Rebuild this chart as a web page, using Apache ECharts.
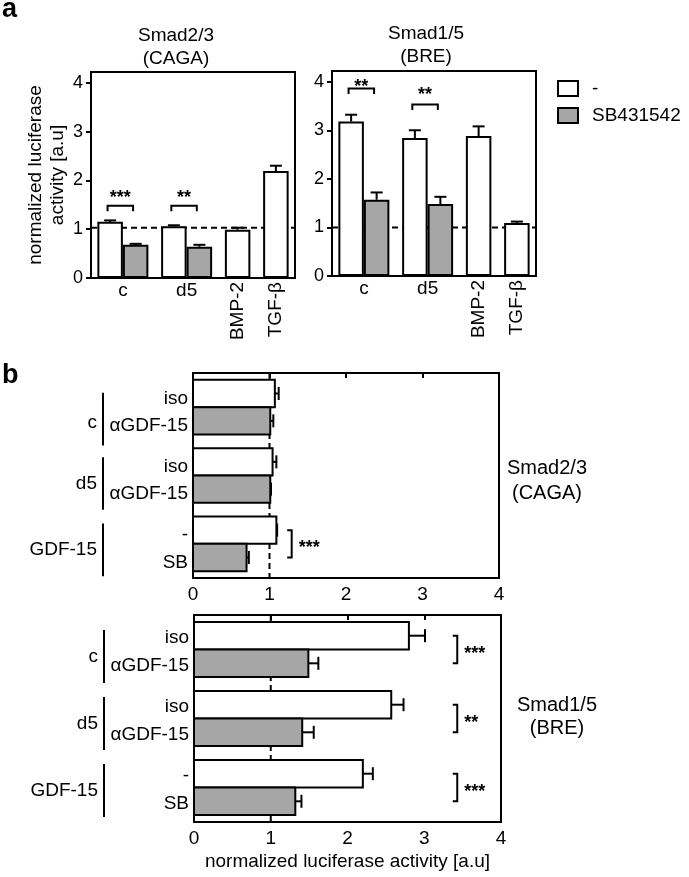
<!DOCTYPE html>
<html><head><meta charset="utf-8">
<script src="https://cdn.jsdelivr.net/npm/echarts@6/dist/echarts.min.js"></script>
<style>html,body{margin:0;padding:0;background:#fff}#chart{width:689px;height:877px}</style>
</head><body><div id="chart"></div>
<script>
// ---------------- data ----------------
const groupsA = ['c', 'd5', 'BMP-2', 'TGF-β'];
const barsPerGroupA = [2, 2, 1, 1];
const cagaCtrl = [1.15, 1.06, 0.99, 2.19];
const cagaCtrlErr = [1.18, 1.08, 1.03, 2.30];
const cagaSB = [0.68, 0.64];
const cagaSBErr = [0.70, 0.68];
const breCtrl = [3.18, 2.84, 2.88, 1.09];
const breCtrlErr = [3.32, 3.00, 3.08, 1.12];
const breSB = [1.57, 1.48];
const breSBErr = [1.72, 1.63];
const sigCaga = ['***', '**'];
const sigCagaBracket = [1.48, 1.48];
const sigCagaText = [1.74, 1.74];
const sigBre = ['**', '**'];
const sigBreBracket = [3.86, 3.53];
const sigBreText = [3.98, 3.82];
const refCaga = 1.03;
const refBre = 1.0;
const yTicksA = [0, 1, 2, 3, 4];

const groupsB = ['c', 'd5', 'GDF-15'];
const firstLabelsB = ['iso', 'iso', '-'];
const secondLabelsB = ['αGDF-15', 'αGDF-15', 'SB'];
const bCagaFirst = [1.07, 1.04, 1.09];
const bCagaFirstErr = [1.12, 1.09, 1.10];
const bCagaSecond = [1.01, 1.01, 0.70];
const bCagaSecondErr = [1.05, 1.02, 0.73];
const bBreFirst = [2.80, 2.57, 2.20];
const bBreFirstErr = [3.01, 2.73, 2.33];
const bBreSecond = [1.49, 1.41, 1.32];
const bBreSecondErr = [1.62, 1.56, 1.40];
const sigBCaga = ['', '', '***'];
const sigBBre = ['***', '**', '***'];
const sigBCagaX = 1.29;
const sigBBreX = 3.43;
const refB = 1.0;

// ---------------- layout helpers ----------------
const FONT = 'Liberation Sans, Arial, Helvetica, sans-serif';
const GRAY = '#a6a6a6';
function slots(sizes) {
  let cur = 0.5; const pos = [];
  sizes.forEach(n => { const a = []; for (let i = 0; i < n; i++) { a.push(cur + 1); cur += 2; } pos.push(a); cur += 1; });
  return { pos, max: cur - 0.5 };
}
const SA = slots(barsPerGroupA);
const SB = slots([2, 2, 2]);
const gA = [{ left: 91, top: 72, width: 204, height: 206 }, { left: 332, top: 71, width: 204, height: 205 }];
const gB = [{ left: 193, top: 373, width: 306, height: 205 }, { left: 194, top: 615, width: 307, height: 207 }];
const yMaxA = 4.22;
const bwA = gA[0].width / SA.max * 2;
// vertical offsets (px) of the group brackets / bar labels in panel b
const grpShiftB = [[12, 8, 6], [7, 5, 3]];
const grpTextShiftB = [[4, 0, 0], [0, 0, 0]];
const barLabShiftB = [5, 2];

const pairLabA = [], singleLabA = [];
SA.pos.forEach((a, g) => { if (a.length === 2) pairLabA.push([(a[0] + a[1]) / 2, groupsA[g]]); else singleLabA.push([a[0], groupsA[g]]); });
const lookup = (list) => (v) => { const m = list.find(e => Math.abs(e[0] - v) < 1e-6); return m ? m[1] : ''; };

const line = (x1, y1, x2, y2) => ({ type: 'line', shape: { x1, y1, x2, y2 }, style: { stroke: '#000', lineWidth: 2 } });

// ---------------- axes ----------------
const xAxis = [], yAxis = [], series = [];
gA.forEach((g, k) => {
  xAxis.push({ type: 'value', gridIndex: k, min: 0, max: SA.max, interval: 0.5, position: 'bottom',
    axisLine: { show: false }, axisTick: { show: false }, splitLine: { show: false },
    axisLabel: { formatter: lookup(pairLabA), color: '#000', fontSize: 19, margin: 3, fontFamily: FONT } });
  xAxis.push({ type: 'value', gridIndex: k, min: 0, max: SA.max, interval: 0.5, position: 'bottom',
    axisLine: { show: false }, axisTick: { show: false }, splitLine: { show: false },
    axisLabel: { formatter: lookup(singleLabA), rotate: 90, color: '#000', fontSize: 19, margin: 4, fontFamily: FONT } });
  yAxis.push({ type: 'value', gridIndex: k, min: 0, max: yMaxA, interval: 1,
    name: k === 0 ? 'normalized luciferase\nactivity [a.u]' : '', nameLocation: 'middle', nameGap: 13,
    nameTextStyle: { fontSize: 19, lineHeight: 22, color: '#000', fontFamily: FONT },
    axisLine: { show: true, lineStyle: { color: '#000', width: 2 } },
    axisTick: { show: true, length: 5, customValues: yTicksA, lineStyle: { color: '#000', width: 2 } },
    splitLine: { show: false },
    axisLabel: { customValues: yTicksA, formatter: v => (Number.isInteger(v) ? String(v) : ''), color: '#000', fontSize: 18, margin: 8, fontFamily: FONT } });
});
gB.forEach((g, k) => {
  xAxis.push({ type: 'value', gridIndex: 2 + k, min: 0, max: 4, interval: 1,
    axisLine: { show: true, lineStyle: { color: '#000', width: 2 } },
    axisTick: { show: true, length: 5, lineStyle: { color: '#000', width: 2 } }, splitLine: { show: false },
    axisLabel: { color: '#000', fontSize: 19, margin: 7, fontFamily: FONT },
    name: k === 1 ? 'normalized luciferase activity [a.u]' : '', nameLocation: 'middle', nameGap: 30,
    nameTextStyle: { fontSize: 19, color: '#000', fontFamily: FONT } });
  yAxis.push({ type: 'value', gridIndex: 2 + k, min: 0, max: SB.max, inverse: true,
    axisLine: { show: false }, axisTick: { show: false }, splitLine: { show: false }, axisLabel: { show: false } });
});

// ---------------- panel a series ----------------
function panelA(k, ctrl, ctrlErr, sb, sbErr, sig, sigB, sigT, ref) {
  const xi = 2 * k, yi = k;
  series.push({ type: 'line', xAxisIndex: xi, yAxisIndex: yi, data: [[0, ref], [SA.max, ref]], symbol: 'none', silent: true, z: 1,
    lineStyle: { color: '#000', width: 2, type: [6, 4] } });
  series.push({ type: 'bar', name: '-', xAxisIndex: xi, yAxisIndex: yi, barWidth: bwA, barGap: '-100%', z: 2,
    data: ctrl.map((v, g) => [SA.pos[g][0], v]), itemStyle: { color: '#fff', borderColor: '#000', borderWidth: 2 } });
  series.push({ type: 'bar', name: 'SB431542', xAxisIndex: xi, yAxisIndex: yi, barWidth: bwA, barGap: '-100%', z: 2,
    data: sb.map((v, g) => [SA.pos[g][1], v]), itemStyle: { color: GRAY, borderColor: '#000', borderWidth: 2 } });
  const errData = ctrl.map((v, g) => [SA.pos[g][0], v, ctrlErr[g]]).concat(sb.map((v, g) => [SA.pos[g][1], v, sbErr[g]]));
  series.push({ type: 'custom', xAxisIndex: xi, yAxisIndex: yi, z: 3, silent: true, data: errData,
    renderItem: (p, api) => {
      const b = api.coord([api.value(0), api.value(1)]), t = api.coord([api.value(0), api.value(2)]);
      return { type: 'group', children: [line(b[0], b[1], t[0], t[1]), line(t[0] - 6, t[1], t[0] + 6, t[1])] };
    } });
  series.push({ type: 'custom', xAxisIndex: xi, yAxisIndex: yi, z: 3, silent: true, clip: false,
    data: sig.map((s, g) => [g, sigB[g], sigT[g]]),
    renderItem: (p, api) => {
      const g = api.value(0), x1 = SA.pos[g][0] - 0.2, x2 = SA.pos[g][1] - 0.2;
      const a = api.coord([x1, api.value(1)]), b = api.coord([x2, api.value(1)]);
      const t = api.coord([(x1 + x2) / 2, api.value(2)]);
      return { type: 'group', children: [
        { type: 'polyline', shape: { points: [[a[0], a[1] + 5.5], a, b, [b[0], b[1] + 5.5]] }, style: { stroke: '#000', lineWidth: 2, fill: null } },
        { type: 'text', x: t[0], y: t[1] + 4.5, style: { text: sig[g], align: 'center', verticalAlign: 'middle', font: 'bold 18px ' + FONT, fill: '#000' } }
      ] };
    } });
}
panelA(0, cagaCtrl, cagaCtrlErr, cagaSB, cagaSBErr, sigCaga, sigCagaBracket, sigCagaText, refCaga);
panelA(1, breCtrl, breCtrlErr, breSB, breSBErr, sigBre, sigBreBracket, sigBreText, refBre);

// ---------------- panel b series ----------------
function panelB(k, first, firstErr, second, secondErr, sig, sigX) {
  const xi = 4 + k, yi = 2 + k;
  series.push({ type: 'line', xAxisIndex: xi, yAxisIndex: yi, data: [[refB, 0], [refB, SB.max]], symbol: 'none', silent: true, z: 1,
    lineStyle: { color: '#000', width: 2, type: [6, 4] } });
  const bars = first.map((v, g) => [v, SB.pos[g][0], firstErr[g], 0, g]).concat(second.map((v, g) => [v, SB.pos[g][1], secondErr[g], 1, g]));
  series.push({ type: 'custom', xAxisIndex: xi, yAxisIndex: yi, z: 2, silent: true, clip: false, data: bars,
    renderItem: (p, api) => {
      const v = api.value(0), y = api.value(1), kind = api.value(3), g = api.value(4);
      const a = api.coord([0, y - 1]), b = api.coord([v, y + 1]), c = api.coord([0, y]);
      return { type: 'group', children: [
        { type: 'rect', shape: { x: a[0], y: Math.min(a[1], b[1]), width: b[0] - a[0], height: Math.abs(b[1] - a[1]) },
          style: { fill: kind ? GRAY : '#fff', stroke: '#000', lineWidth: 2 } },
        { type: 'text', x: c[0] - 5, y: c[1] + barLabShiftB[k], style: { text: kind ? secondLabelsB[g] : firstLabelsB[g], align: 'right', verticalAlign: 'middle', font: '19px ' + FONT, fill: '#000' } }
      ] };
    } });
  series.push({ type: 'custom', xAxisIndex: xi, yAxisIndex: yi, z: 3, silent: true, data: bars,
    renderItem: (p, api) => {
      const b = api.coord([api.value(0), api.value(1)]), t = api.coord([api.value(2), api.value(1)]);
      return { type: 'group', children: [line(b[0], b[1], t[0], t[1]), line(t[0], t[1] - 6.5, t[0], t[1] + 6.5)] };
    } });
  series.push({ type: 'custom', xAxisIndex: xi, yAxisIndex: yi, z: 3, silent: true, clip: false,
    data: sig.map((s, g) => [sigX, g]).filter((d, g) => sig[g]),
    renderItem: (p, api) => {
      const g = api.value(1), x = api.value(0);
      const a = api.coord([x, SB.pos[g][0]]), b = api.coord([x, SB.pos[g][1]]);
      return { type: 'group', children: [
        { type: 'polyline', shape: { points: [[a[0] - 4.5, a[1]], a, b, [b[0] - 4.5, b[1]]] }, style: { stroke: '#000', lineWidth: 2, fill: null } },
        { type: 'text', x: a[0] + 7, y: (a[1] + b[1]) / 2 + 4.5, style: { text: sig[g], align: 'left', verticalAlign: 'middle', font: 'bold 18px ' + FONT, fill: '#000' } }
      ] };
    } });
  series.push({ type: 'custom', xAxisIndex: xi, yAxisIndex: yi, z: 3, silent: true, clip: false,
    data: groupsB.map((n, g) => [0, g]),
    renderItem: (p, api) => {
      const g = api.value(1), sh = grpShiftB[k][g];
      const a = api.coord([0, SB.pos[g][0] - 1]), b = api.coord([0, SB.pos[g][1] + 1]);
      const lx = a[0] - 90, y1 = a[1] + sh + 1, y2 = b[1] + sh - 1;
      return { type: 'group', children: [
        line(lx, y1, lx, y2),
        { type: 'text', x: a[0] - 96, y: (y1 + y2) / 2 + grpTextShiftB[k][g], style: { text: groupsB[g], align: 'right', verticalAlign: 'middle', font: '19px ' + FONT, fill: '#000' } }
      ] };
    } });
}
panelB(0, bCagaFirst, bCagaFirstErr, bCagaSecond, bCagaSecondErr, sigBCaga, sigBCagaX);
panelB(1, bBreFirst, bBreFirstErr, bBreSecond, bBreSecondErr, sigBBre, sigBBreX);

const gridStyle = { show: true, borderColor: '#000', borderWidth: 2, backgroundColor: 'transparent', containLabel: false };
const option = {
  animation: false,
  textStyle: { fontFamily: FONT, color: '#000' },
  grid: gA.concat(gB).map(g => Object.assign({}, gridStyle, g)),
  xAxis, yAxis, series,
  legend: { left: 557, top: 79, padding: 0, orient: 'vertical', itemWidth: 20, itemHeight: 15, itemGap: 8, icon: 'rect', selectedMode: false,
    data: ['-', 'SB431542'], itemStyle: { borderColor: '#000', borderWidth: 2 },
    textStyle: { fontSize: 19, color: '#000', fontFamily: FONT, padding: [0, 0, 0, 9] } },
  title: [
    { text: 'a', left: 2, top: -4, padding: 0, textStyle: { fontSize: 27, fontWeight: 'bold', color: '#000', fontFamily: FONT } },
    { text: 'b', left: 2, top: 362, padding: 0, textStyle: { fontSize: 27, fontWeight: 'bold', color: '#000', fontFamily: FONT } },
    { text: 'Smad2/3\n(CAGA)', left: 176, top: 24, padding: 0, textAlign: 'center', textStyle: { fontSize: 19, lineHeight: 23.5, fontWeight: 'normal', color: '#000', fontFamily: FONT } },
    { text: 'Smad1/5\n(BRE)', left: 426, top: 22, padding: 0, textAlign: 'center', textStyle: { fontSize: 19, lineHeight: 23.5, fontWeight: 'normal', color: '#000', fontFamily: FONT } },
    { text: 'Smad2/3\n(CAGA)', left: 547, top: 455.5, padding: 0, textAlign: 'center', textStyle: { fontSize: 20, lineHeight: 25, fontWeight: 'normal', color: '#000', fontFamily: FONT } },
    { text: 'Smad1/5\n(BRE)', left: 557, top: 693.5, padding: 0, textAlign: 'center', textStyle: { fontSize: 20, lineHeight: 23, fontWeight: 'normal', color: '#000', fontFamily: FONT } }
  ]
};
const chart = echarts.init(document.getElementById('chart'), null, { renderer: 'canvas' });
chart.setOption(option);
</script></body></html>
